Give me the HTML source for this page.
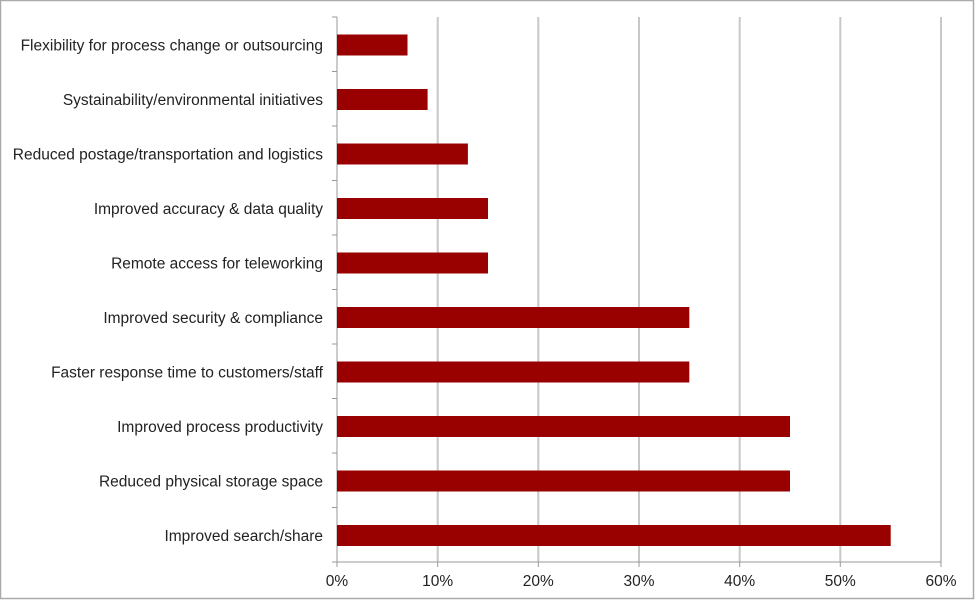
<!DOCTYPE html>
<html><head><style>
body{margin:0;background:#fff;}
svg{display:block;font-family:"Liberation Sans",Arial,sans-serif;}
</style></head><body>
<svg width="975" height="601" xmlns="http://www.w3.org/2000/svg">
<rect x="0.5" y="0.5" width="973" height="598" fill="#fff" stroke="#aaa" stroke-width="1.5"/>
<g stroke="#c8c8c8" stroke-width="2">
<line x1="437.7" y1="17" x2="437.7" y2="562"/>
<line x1="538.3" y1="17" x2="538.3" y2="562"/>
<line x1="639" y1="17" x2="639" y2="562"/>
<line x1="739.7" y1="17" x2="739.7" y2="562"/>
<line x1="840.3" y1="17" x2="840.3" y2="562"/>
<line x1="941" y1="17" x2="941" y2="562"/>
</g>
<g stroke="#999" stroke-width="1">
<line x1="337" y1="17" x2="337" y2="562"/>
<line x1="337" y1="562" x2="941" y2="562"/>
<line x1="332" y1="17" x2="337" y2="17"/><line x1="332" y1="71.5" x2="337" y2="71.5"/><line x1="332" y1="126" x2="337" y2="126"/><line x1="332" y1="180.5" x2="337" y2="180.5"/><line x1="332" y1="235" x2="337" y2="235"/><line x1="332" y1="289.5" x2="337" y2="289.5"/><line x1="332" y1="344" x2="337" y2="344"/><line x1="332" y1="398.5" x2="337" y2="398.5"/><line x1="332" y1="453" x2="337" y2="453"/><line x1="332" y1="507.5" x2="337" y2="507.5"/><line x1="332" y1="562" x2="337" y2="562"/>
<line x1="337" y1="562" x2="337" y2="567"/><line x1="437.7" y1="562" x2="437.7" y2="567"/><line x1="538.3" y1="562" x2="538.3" y2="567"/><line x1="639" y1="562" x2="639" y2="567"/><line x1="739.7" y1="562" x2="739.7" y2="567"/><line x1="840.3" y1="562" x2="840.3" y2="567"/><line x1="941" y1="562" x2="941" y2="567"/>
</g>
<g fill="#990000">
<rect x="337" y="34.5" width="70.5" height="21"/>
<rect x="337" y="89" width="90.6" height="21"/>
<rect x="337" y="143.5" width="130.9" height="21"/>
<rect x="337" y="198" width="151" height="21"/>
<rect x="337" y="252.5" width="151" height="21"/>
<rect x="337" y="307" width="352.3" height="21"/>
<rect x="337" y="361.5" width="352.3" height="21"/>
<rect x="337" y="416" width="453" height="21"/>
<rect x="337" y="470.5" width="453" height="21"/>
<rect x="337" y="525" width="553.7" height="21"/>
</g>
<g font-size="15.5" fill="#222" text-anchor="end">
<text x="323" y="50.5">Flexibility for process change or outsourcing</text>
<text x="323" y="105">Systainability/environmental initiatives</text>
<text x="323" y="159.5">Reduced postage/transportation and logistics</text>
<text x="323" y="214">Improved accuracy &amp; data quality</text>
<text x="323" y="268.5">Remote access for teleworking</text>
<text x="323" y="323">Improved security &amp; compliance</text>
<text x="323" y="377.5">Faster response time to customers/staff</text>
<text x="323" y="432">Improved process productivity</text>
<text x="323" y="486.5">Reduced physical storage space</text>
<text x="323" y="541">Improved search/share</text>
</g>
<g font-size="15.5" fill="#222" text-anchor="middle">
<text x="337" y="586">0%</text><text x="437.7" y="586">10%</text><text x="538.3" y="586">20%</text><text x="639" y="586">30%</text><text x="739.7" y="586">40%</text><text x="840.3" y="586">50%</text><text x="941" y="586">60%</text>
</g>
</svg>
</body></html>
